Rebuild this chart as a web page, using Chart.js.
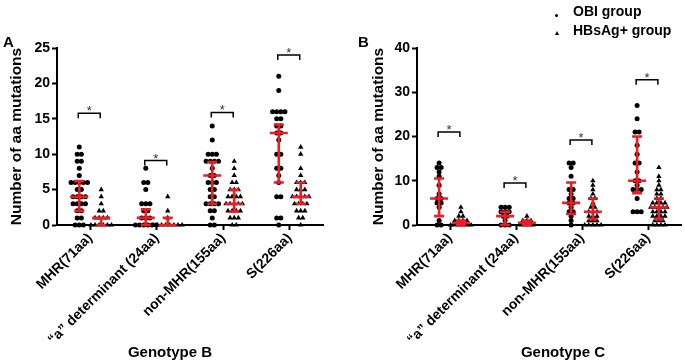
<!DOCTYPE html>
<html>
<head>
<meta charset="utf-8">
<script src="https://cdn.jsdelivr.net/npm/chart.js@4.4.0/dist/chart.umd.min.js"></script>
<style>
  body { margin: 0; background: #fff; width: 685px; height: 364px; position: relative; overflow: hidden;
         font-family: "Liberation Sans", Arial, sans-serif; font-weight: bold; color: #000; }
  canvas { position: absolute; top: 0; }
  #chartB { left: 0; }
  #chartC { left: 362px; }
  .txt { position: absolute; white-space: nowrap; }
  .panel { font-size: 15px; }
  .caption { font-size: 15px; transform: translate(-50%, -50%); }
  .leg { font-size: 14px; left: 573px; transform: translateY(-50%); }
  .dot { position: absolute; left: 555px; width: 3px; height: 3px; border-radius: 50%; background: #000; }
  .tri { position: absolute; left: 555px; width: 0; height: 0; border-left: 2px solid transparent;
         border-right: 2px solid transparent; border-bottom: 4px solid #000; }
</style>
</head>
<body>
<canvas id="chartB" width="340" height="364"></canvas>
<canvas id="chartC" width="323" height="364"></canvas>
<div class="txt panel" style="left:3px;top:33px">A</div>
<div class="txt panel" style="left:358px;top:33px">B</div>
<div class="txt caption" style="left:170px;top:351px">Genotype B</div>
<div class="txt caption" style="left:563px;top:351px">Genotype C</div>
<span class="dot" style="top:14px"></span>
<div class="txt leg" style="top:11px">OBI group</div>
<span class="tri" style="top:31px"></span>
<div class="txt leg" style="top:30px">HBsAg+ group</div>
<script>
const categories = ['MHR(71aa)', '\u201ca\u201d determinant (24aa)', 'non-MHR(155aa)', 'S(226aa)'];

// Genotype B: aa mutations per sample, one list per category
const obiB = [
  [11,10,10,9,9,8,7,6,6,6,6,6,5,5,4,4,4,4,3,3,3,3,2,2,1,1,0,0,0],
  [8,6,6,5,3,3,3,2,2,1,1,1,0,0,0,0,0,0],
  [14,12,10,10,10,9,9,9,9,8,7,7,6,6,6,5,5,4,4,3,3,3,3,2,2,1,0,0],
  [21,19,16,16,16,16,15,15,14,14,13,13,12,10,10,8,8,7,6,4,4,1,1,0]
];
const hbsB = [
  [5,4,3,2,2,1,1,1,1,0,0,0,0,0,0],
  [4,2,1,0,0,0,0,0,0,0,0],
  [9,8,7,6,6,5,5,5,4,4,4,4,3,3,3,3,3,2,2,2,2,1,1,1,0,0],
  [11,10,8,7,6,6,6,5,5,5,4,4,4,4,4,3,3,3,3,2,2,2,1,1,0]
];
// [q1, median, q3]
const obiStatsB = [[2,4,6.2],[0,1,2.2],[3,7,8.9],[6,13,14.2]];
const hbsStatsB = [[0,1,1],[0,0,1],[1.9,3,5],[3,4,6]];
const sigB = [15.8, 9.1, 15.9, 24.0];

// Genotype C
const obiC = [
  [14,13,13,12,11,9,7,6,6,5,5,4,1,0,0],
  [4,4,4,3,3,3,2,2,1,0,0,0],
  [14,14,13,11,8,8,7,6,6,5,5,4,3,3,2,1,0],
  [27,24,21,21,18,16,14,14,12,10,10,9,8,8,8,6,3,3,3]
];
const hbsC = [
  [4,3,2,2,1,1,1,1,0,0,0,0,0,0],
  [2,1,1,1,0,0,0,0],
  [10,9,8,7,6,6,5,4,4,3,3,3,2,2,2,1,1,1,0,0,0,0,0],
  [13,11,10,9,8,8,7,7,6,6,5,5,5,5,4,4,4,4,4,3,3,3,3,2,2,2,2,1,1,1,0,0,0,0]
];
const obiStatsC = [[2,6,10.5],[0,2,3],[2.5,5,9.6],[7.2,10,20]];
const hbsStatsC = [[0,0.5,1],[0,0.5,1],[1.3,3,6],[1.3,4,6]];
const sigC = [21.0, 9.5, 19.2, 32.8];

const RED = 'rgb(236,28,36)';
const GROUP_OFFSET = [-0.165, 0.165];
const SPREAD = 0.062;

Chart.defaults.font.family = '"Liberation Sans", Arial, sans-serif';
Chart.defaults.font.weight = 'bold';
Chart.defaults.color = '#000';

// spread equal values sideways like a dot plot
function toPoints(lists, g) {
  const pts = [];
  lists.forEach((vals, i) => {
    const counts = {};
    vals.forEach(v => counts[v] = (counts[v] || 0) + 1);
    const seen = {};
    vals.forEach(v => {
      const k = seen[v] = (seen[v] || 0) + 1;
      const off = (k - 1 - (counts[v] - 1) / 2) * SPREAD;
      pts.push({ x: i + 1 + GROUP_OFFSET[g] + off, y: v });
    });
  });
  return pts;
}

const overlay = {
  id: 'overlay',
  afterDatasetsDraw(chart, args, opts) {
    const { ctx, scales: { x, y } } = chart;
    ctx.save();
    ctx.strokeStyle = RED;
    ctx.lineWidth = 2.6;
    opts.stats.forEach((group, g) => {
      group.forEach(([q1, med, q3], i) => {
        const cx = x.getPixelForValue(i + 1 + GROUP_OFFSET[g]);
        const top = y.getPixelForValue(q3), bot = y.getPixelForValue(q1), mid = y.getPixelForValue(med);
        ctx.beginPath();
        ctx.moveTo(cx, top); ctx.lineTo(cx, bot);
        ctx.moveTo(cx - 5, top); ctx.lineTo(cx + 5, top);
        ctx.moveTo(cx - 5, bot); ctx.lineTo(cx + 5, bot);
        ctx.moveTo(cx - 9, mid); ctx.lineTo(cx + 9, mid);
        ctx.stroke();
      });
    });
    ctx.strokeStyle = '#000';
    ctx.fillStyle = '#333';
    ctx.lineWidth = 1.5;
    ctx.font = '13px "Liberation Sans", Arial, sans-serif';
    ctx.textAlign = 'center';
    opts.sig.forEach((v, i) => {
      const x1 = x.getPixelForValue(i + 1 + GROUP_OFFSET[0]) - 1;
      const x2 = x.getPixelForValue(i + 1 + GROUP_OFFSET[1]) - 1;
      const yt = y.getPixelForValue(v);
      ctx.beginPath();
      ctx.moveTo(x1, yt + 5); ctx.lineTo(x1, yt); ctx.lineTo(x2, yt); ctx.lineTo(x2, yt + 5);
      ctx.stroke();
      ctx.fillText('*', (x1 + x2) / 2, yt + 2);
    });
    ctx.restore();
  }
};

function makeChart(id, obi, hbs, obiStats, hbsStats, sig, yMax, yStep, axisW, padRight) {
  return new Chart(document.getElementById(id), {
    type: 'scatter',
    data: {
      datasets: [
        { label: 'OBI group', data: toPoints(obi, 0), pointStyle: 'circle', pointRadius: 2.5,
          backgroundColor: '#000', borderWidth: 0, clip: false },
        { label: 'HBsAg+ group', data: toPoints(hbs, 1), pointStyle: 'triangle', pointRadius: 3.1,
          backgroundColor: '#000', borderWidth: 0, clip: false }
      ]
    },
    options: {
      responsive: false,
      animation: false,
      layout: { padding: { top: 48, right: padRight, left: 0, bottom: 0 } },
      plugins: {
        legend: { display: false },
        tooltip: { enabled: false },
        overlay: { stats: [obiStats, hbsStats], sig: sig }
      },
      scales: {
        x: {
          type: 'linear', min: 0.5, max: 4.5,
          afterBuildTicks: s => { s.ticks = categories.map((c, i) => ({ value: i + 1 })); },
          ticks: { autoSkip: false, minRotation: 45, maxRotation: 45, padding: 0,
                   font: { size: 14, weight: 'bold' }, callback: v => categories[v - 1] },
          grid: { drawOnChartArea: false, tickLength: 5, tickWidth: 2, tickColor: '#000' },
          border: { color: '#000', width: 2 },
          afterFit: s => { s.height = 364 - 225; }
        },
        y: {
          min: 0, max: yMax,
          ticks: { stepSize: yStep, padding: 2, font: { size: 14, weight: 'bold' } },
          grid: { drawOnChartArea: false, tickLength: 5, tickWidth: 2, tickColor: '#000' },
          border: { color: '#000', width: 2 },
          title: { display: true, text: 'Number of aa mutations', color: '#000',
                   font: { size: 15.5, weight: 'bold' }, padding: { top: 7, bottom: 0 } },
          afterFit: s => { s.width = axisW; }
        }
      }
    },
    plugins: [overlay]
  });
}

makeChart('chartB', obiB, hbsB, obiStatsB, hbsStatsB, sigB, 25, 5, 57, 17);
makeChart('chartC', obiC, hbsC, obiStatsC, hbsStatsC, sigC, 40, 10, 55, 1);
</script>
</body>
</html>
